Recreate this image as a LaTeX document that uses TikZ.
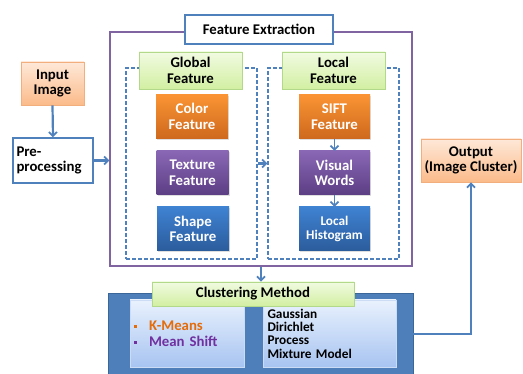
\documentclass[tikz,border=0pt]{standalone}
\usepackage{fontspec}
\setmainfont{Carlito}
\usetikzlibrary{arrows.meta,shadows}
\definecolor{lineblue}{HTML}{4F81BD}
\definecolor{framepurple}{HTML}{8064A2}
\definecolor{orT}{HTML}{FA9434}
\definecolor{orB}{HTML}{CF691D}
\definecolor{puT}{HTML}{8A67B5}
\definecolor{puB}{HTML}{5C3E84}
\definecolor{blT}{HTML}{3F82D2}
\definecolor{blB}{HTML}{2B5C9C}
\definecolor{grT}{HTML}{F1FBE1}
\definecolor{grB}{HTML}{D2EFA2}
\definecolor{grD}{HTML}{B2D98A}
\definecolor{peT}{HTML}{FEE8D8}
\definecolor{peB}{HTML}{FBBB8A}
\definecolor{peD}{HTML}{F3AE7E}
\definecolor{ltT}{HTML}{E9F1FD}
\definecolor{ltB}{HTML}{A7C4F1}
\definecolor{ltD}{HTML}{CCDCF4}
\definecolor{darkbox}{HTML}{4F7FBB}
\definecolor{darkD}{HTML}{3B6699}
\definecolor{kmean}{HTML}{E46C0A}
\definecolor{mshift}{HTML}{7030A0}
\begin{document}
\begin{tikzpicture}[x=1pt,y=-1pt,
  every node/.style={inner sep=0pt, align=center, font=\bfseries\fontsize{14.8}{15.5}\selectfont},
  shd/.style={drop shadow={opacity=0.25, shadow xshift=1pt, shadow yshift=-1.5pt}},
  colbox/.style={shd, minimum width=72pt, minimum height=44pt, text=white},
  orbox/.style={colbox, top color=orT, bottom color=orB},
  pubox/.style={colbox, top color=puT, bottom color=puB},
  blbox/.style={colbox, top color=blT, bottom color=blB},
  grlabel/.style={shd, draw=grD, line width=0.8pt, top color=grT, bottom color=grB},
  pebox/.style={shd, draw=peD, line width=0.8pt, top color=peT, bottom color=peB},
  dashbox/.style={draw=lineblue, dashed, dash pattern=on 4pt off 2pt, line width=1.2pt},
  arr/.style={draw=lineblue, line width=2.2pt, -{Straight Barb[length=4pt,width=8pt,line width=1.8pt]}},
  ltbox/.style={draw=ltD, line width=0.6pt, top color=ltT, bottom color=ltB, shd}
]
\useasboundingbox (0,0) rectangle (523,374);

% Input and pre-processing
\node[pebox, minimum width=63pt, minimum height=43pt] (in) at (52.5,83.5) {Input\\Image};
\node[draw=lineblue, line width=1.5pt, fill=white, shd, minimum width=80pt, minimum height=45pt,
      text width=73pt, align=left] (pre) at (53,160.5) {Pre-\\processing};

% Feature extraction frame
\node[draw=framepurple, line width=1.3pt, minimum width=302pt, minimum height=234pt] (frame) at (261,149) {};
\node[draw=lineblue, line width=1.5pt, fill=white, minimum width=148pt, minimum height=29pt] (title) at (259,29.5) {Feature Extraction};

% Global / local dashed groups
\node[dashbox, minimum width=131pt, minimum height=191pt] (gdash) at (191.5,163.5) {};
\node[dashbox, minimum width=131pt, minimum height=191pt] (ldash) at (333.5,163.5) {};
\node[grlabel, minimum width=103pt, minimum height=37pt] (glab) at (190.5,70.5) {Global\\Feature};
\node[grlabel, minimum width=103pt, minimum height=37pt] (llab) at (333.5,70.5) {Local\\Feature};

\node[orbox] (color) at (192,116.5) {Color\\Feature};
\node[pubox] (texture) at (192.5,173) {Texture\\Feature};
\node[blbox] (shape) at (193,229) {Shape\\Feature};

\node[orbox, minimum width=71pt] (sift) at (334.5,116.5) {SIFT\\Feature};
\node[pubox, minimum width=71pt] (visual) at (334.5,173) {Visual\\Words};
\node[blbox, minimum width=71pt, font=\bfseries\fontsize{13.3}{14.5}\selectfont] (hist) at (334.5,229) {Local\\Histogram};

% Output
\node[pebox, minimum width=100pt, minimum height=43pt] (out) at (471,160.5) {Output\\(Image Cluster)};

% Clustering
\node[draw=darkD, line width=0.8pt, fill=darkbox, minimum width=305pt, minimum height=82pt] (clus) at (260.5,334) {};
\node[ltbox, minimum width=114pt, minimum height=67pt, text width=106pt, align=left,
      font=\bfseries\fontsize{14.8}{16}\selectfont] (kbox) at (187,333.5)
  {\makebox[15pt][l]{\textcolor{kmean}{\rule[2.5pt]{3pt}{3pt}}}\textcolor{kmean}{K-Means}\\
   \makebox[15pt][l]{\textcolor{mshift}{\rule[2.5pt]{3pt}{3pt}}}\textcolor{mshift}{Mean Shift}};
\node[ltbox, minimum width=133pt, minimum height=67pt, text width=124pt, align=left,
      font=\bfseries\fontsize{13.3}{13.3}\selectfont] (gbox) at (329.5,333.5)
  {Gaussian\\Dirichlet\\Process\\Mixture Model};
\node[grlabel, minimum width=202pt, minimum height=24pt] (clab) at (253,294) {Clustering Method};

% Connectors
\draw[arr] (in.south) -- (pre.north);
\draw[arr] (pre.east) -- (pre.east -| frame.west);
\draw[arr] (gdash.east) -- (ldash.west);
\draw[arr, line width=1.8pt] (sift.south) -- (visual.north);
\draw[arr, line width=1.8pt] (visual.south) -- (hist.north);
\draw[arr] (frame.south) -- (frame.south |- clab.north);
\draw[arr] (clus.east) -| (out.south);
\end{tikzpicture}
\end{document}
